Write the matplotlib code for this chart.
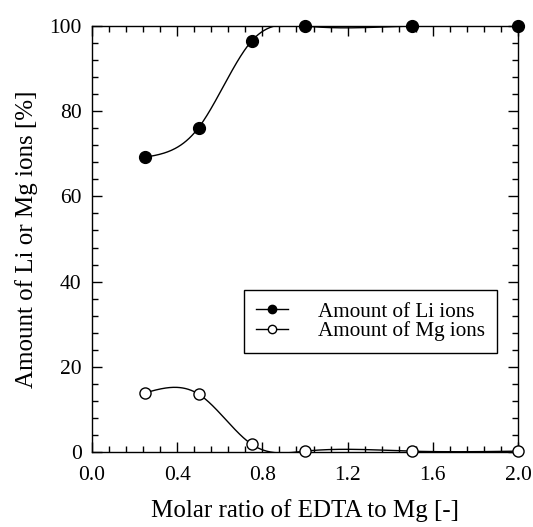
import numpy as np
import matplotlib
matplotlib.use("Agg")
import matplotlib.pyplot as plt
from matplotlib.ticker import MultipleLocator, FormatStrFormatter

ratio = [0.25, 0.5, 0.75, 1.0, 1.5, 2.0]
li_amount = [69.2, 76.1, 96.5, 100.0, 100.0, 100.0]
mg_amount = [13.9, 13.6, 1.8, 0.2, 0.2, 0.2]
x_label = "Molar ratio of EDTA to Mg [-]"
y_label = "Amount of Li or Mg ions [%]"
li_name = "Amount of Li ions"
mg_name = "Amount of Mg ions"


def natural_spline(x, y, n=400):
    x = np.asarray(x, float)
    y = np.asarray(y, float)
    k = len(x)
    h = np.diff(x)
    A = np.zeros((k, k))
    b = np.zeros(k)
    A[0, 0] = 1
    A[-1, -1] = 1
    for i in range(1, k - 1):
        A[i, i - 1] = h[i - 1]
        A[i, i] = 2 * (h[i - 1] + h[i])
        A[i, i + 1] = h[i]
        b[i] = 6 * ((y[i + 1] - y[i]) / h[i] - (y[i] - y[i - 1]) / h[i - 1])
    M = np.linalg.solve(A, b)
    xs = np.linspace(x[0], x[-1], n)
    idx = np.clip(np.searchsorted(x, xs) - 1, 0, k - 2)
    hi = h[idx]
    t = (xs - x[idx]) / hi
    ys = ((1 - t) * y[idx] + t * y[idx + 1]
          - hi ** 2 / 6 * t * (1 - t) * ((2 - t) * M[idx] + (1 + t) * M[idx + 1]))
    return xs, ys


plt.rcParams['font.family'] = ['Liberation Serif', 'DejaVu Serif']
fig = plt.figure(figsize=(5.33, 5.27), dpi=100)
ax = fig.add_axes([0.1726, 0.1423, 0.7993, 0.8084])

xs, ys = natural_spline(ratio, li_amount)
ax.plot(xs, ys, color='black', lw=1.0)
xs, ys = natural_spline(ratio, mg_amount)
ax.plot(xs, ys, color='black', lw=1.0)

ax.plot(ratio, li_amount, 'o', color='black', ms=8.5, mec='black', clip_on=False, zorder=5)
ax.plot(ratio, mg_amount, 'o', color='white', ms=8.0, mec='black', mew=1.0, clip_on=False, zorder=5)

h1, = ax.plot([], [], '-o', color='black', ms=6, mfc='black', mec='black', lw=1.0)
h2, = ax.plot([], [], '-o', color='black', ms=6, mfc='white', mec='black', lw=1.0)
leg = ax.legend([h1, h2], [li_name, mg_name], loc='upper left',
                bbox_to_anchor=(0.357, 0.38), fontsize=15.2, frameon=True,
                fancybox=False, edgecolor='black', framealpha=1,
                handlelength=1.55, handletextpad=1.4, borderpad=0.55,
                labelspacing=0.0, borderaxespad=0)
leg.get_frame().set_linewidth(1.0)

ax.set_xlim(0, 2.0)
ax.set_ylim(0, 100)
ax.xaxis.set_major_locator(MultipleLocator(0.4))
ax.xaxis.set_minor_locator(MultipleLocator(0.08))
ax.yaxis.set_major_locator(MultipleLocator(20))
ax.yaxis.set_minor_locator(MultipleLocator(4))
ax.xaxis.set_major_formatter(FormatStrFormatter('%.1f'))
ax.tick_params(which='both', direction='in', top=True, right=True, labelsize=15.5, width=1.0)
ax.tick_params(which='major', length=7)
ax.tick_params(which='minor', length=4)
ax.tick_params(axis='x', which='major', pad=10)
ax.tick_params(axis='y', which='major', pad=7.5)
for s in ax.spines.values():
    s.set_linewidth(1.0)

ax.set_xlabel(x_label, fontsize=18, labelpad=10)
ax.set_ylabel(y_label, fontsize=18, labelpad=8)

fig.savefig('out.png', dpi=100)
